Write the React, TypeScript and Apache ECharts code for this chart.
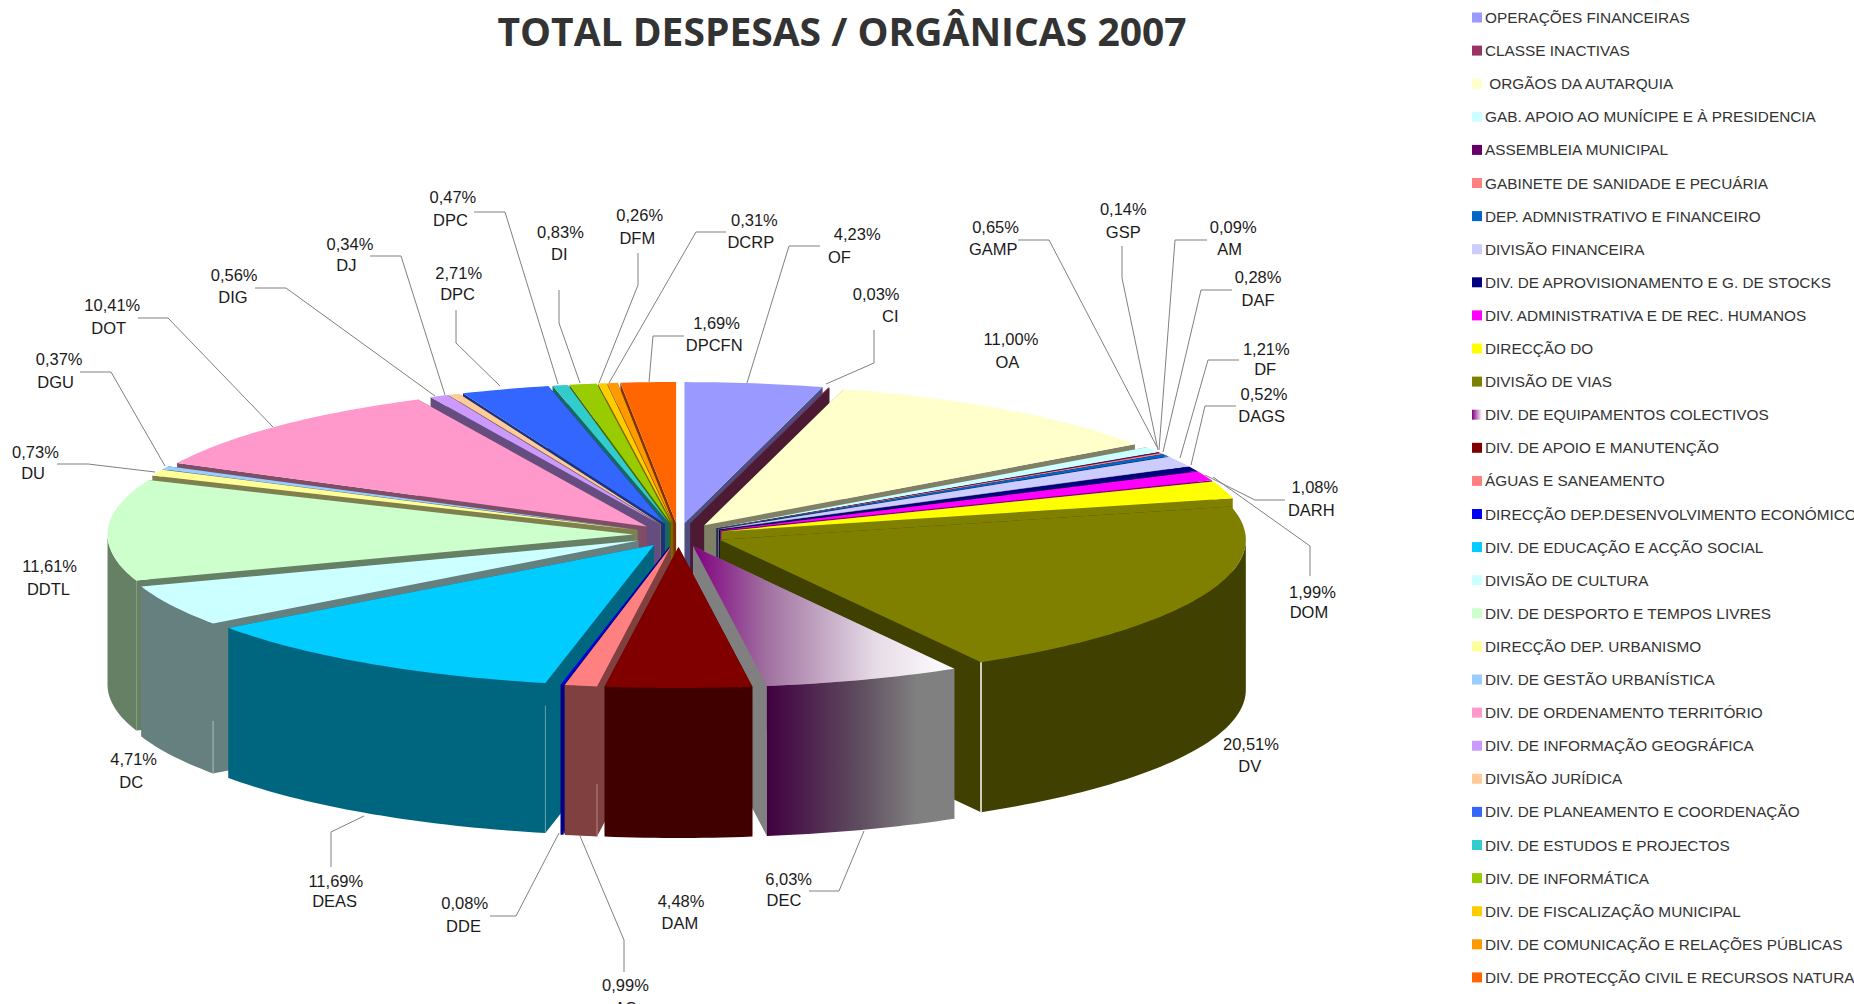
import React, { useEffect, useRef } from "react";
import * as echarts from "echarts";

const legendNames = [
  "OPERAÇÕES FINANCEIRAS", "CLASSE INACTIVAS", " ORGÃOS DA AUTARQUIA", "GAB. APOIO AO MUNÍCIPE E À PRESIDENCIA",
  "ASSEMBLEIA MUNICIPAL", "GABINETE DE SANIDADE E PECUÁRIA", "DEP. ADMNISTRATIVO E FINANCEIRO", "DIVISÃO FINANCEIRA",
  "DIV. DE APROVISIONAMENTO E G. DE STOCKS", "DIV. ADMINISTRATIVA E DE REC. HUMANOS", "DIRECÇÃO DO", "DIVISÃO DE VIAS",
  "DIV. DE EQUIPAMENTOS COLECTIVOS", "DIV. DE APOIO E MANUTENÇÃO", "ÁGUAS E SANEAMENTO", "DIRECÇÃO DEP.DESENVOLVIMENTO ECONÓMICO",
  "DIV. DE EDUCAÇÃO E ACÇÃO SOCIAL", "DIVISÃO DE CULTURA", "DIV. DE DESPORTO E TEMPOS LIVRES", "DIRECÇÃO DEP. URBANISMO",
  "DIV. DE GESTÃO URBANÍSTICA", "DIV. DE ORDENAMENTO TERRITÓRIO", "DIV. DE INFORMAÇÃO GEOGRÁFICA", "DIVISÃO JURÍDICA",
  "DIV. DE PLANEAMENTO E COORDENAÇÃO", "DIV. DE ESTUDOS E PROJECTOS", "DIV. DE INFORMÁTICA", "DIV. DE FISCALIZAÇÃO MUNICIPAL",
  "DIV. DE COMUNICAÇÃO E RELAÇÕES PÚBLICAS", "DIV. DE PROTECÇÃO CIVIL E RECURSOS NATURAIS",
];
const shortNames = [
  "OF", "CI", "OA", "GAMP", "AM", "GSP", "DAF", "DF", "DAGS", "DARH", "DOM", "DV", "DEC", "DAM", "AS",
  "DDE", "DEAS", "DC", "DDTL", "DU", "DGU", "DOT", "DIG", "DJ", "DPC", "DPC", "DI", "DFM", "DCRP", "DPCFN",
];
const values = [
  4.23, 0.03, 11.0, 0.65, 0.09, 0.14, 0.28, 1.21, 0.52, 1.08, 1.99, 20.51, 6.03, 4.48, 0.99,
  0.08, 11.69, 4.71, 11.61, 0.73, 0.37, 10.41, 0.56, 0.34, 2.71, 0.47, 0.83, 0.26, 0.31, 1.69,
];
const colors = [
  "#9999FF", "#993366", "#FFFFCC", "#CCFFFF", "#660066", "#FF8080", "#0066CC", "#CCCCFF", "#000080", "#FF00FF",
  "#FFFF00", "#808000", "#800080", "#800000", "#FF8080", "#0000FF", "#00CCFF", "#CCFFFF", "#CCFFCC", "#FFFF99",
  "#99CCFF", "#FF99CC", "#CC99FF", "#FFCC99", "#3366FF", "#33CCCC", "#99CC00", "#FFCC00", "#FF9900", "#FF6600",
];
const percentLabels = [
  "4,23%", "0,03%", "11,00%", "0,65%", "0,09%", "0,14%", "0,28%", "1,21%", "0,52%", "1,08%", "1,99%", "20,51%", "6,03%", "4,48%", "0,99%",
  "0,08%", "11,69%", "4,71%", "11,61%", "0,73%", "0,37%", "10,41%", "0,56%", "0,34%", "2,71%", "0,47%", "0,83%", "0,26%", "0,31%", "1,69%",
];

// label layout: [percent x, percent y, name x, name y] in the 1568-wide reference
const labelLayout: number[][] = [
  [725, 198, 710, 217], [741, 249, 753, 267], [855, 287, 852, 306], [842, 192, 840, 211], [1043, 192, 1040, 211],
  [950, 177, 950, 196], [1064, 234, 1064, 254], [1071, 295, 1070, 312], [1069, 333, 1067, 352], [1112, 412, 1109, 431],
  [1110, 501, 1107, 518], [1058, 629, 1057, 648], [667, 743, 663, 761], [576, 762, 575, 781], [529, 833, 529, 852.5],
  [393, 764, 392, 783], [284, 745, 283, 762], [113, 642, 111, 661], [42, 479, 41, 498], [30, 382, 28, 400],
  [50, 304, 47, 323], [95, 258, 92, 277], [198, 233, 197, 251], [296, 206, 293, 224], [388, 231, 387, 249],
  [383, 167, 381, 186], [474, 196, 473, 215], [541, 182, 539, 201], [638, 186, 635, 205], [606, 273, 604, 292],
];
// leader lines in page pixels
const leaderLines: number[][][] = [
  [[747, 383], [789, 246], [820, 246]],
  [[826, 384], [874, 363], [874, 330]],
  [],
  [[1157, 447], [1049, 240], [1018, 240]],
  [[1159, 450], [1175, 240], [1207, 240]],
  [[1158, 450], [1122, 278], [1122, 246]],
  [[1163, 452], [1201, 290], [1232, 290]],
  [[1180, 458], [1208, 360], [1239, 360]],
  [[1191, 465], [1205, 406], [1236, 406]],
  [[1205, 475], [1255, 500], [1285, 500]],
  [[1213, 477], [1310, 546], [1310, 576]],
  [],
  [[864, 831], [839, 891], [809, 891]],
  [],
  [[580, 836], [624, 940], [624, 972]],
  [[559, 833], [516, 916], [490, 916]],
  [[364, 816], [331, 832], [331, 867]],
  [],
  [],
  [[57, 464], [88, 464], [155, 472]],
  [[165, 466], [111, 372], [80, 372]],
  [[273, 427], [168, 318], [138, 318]],
  [[435, 396], [286, 288], [255, 288]],
  [[445, 395], [401, 256], [370, 256]],
  [[500, 386], [456, 343], [456, 310]],
  [[558, 384], [505, 212], [474, 212]],
  [[580, 383], [559, 323], [559, 290]],
  [[599, 383], [638, 285], [638, 253]],
  [[609, 383], [696, 232], [726, 232]],
  [[649, 382], [653, 336], [684, 336]],
];
// light edges where a slice's outer wall meets its cut face: [slice index, use end angle, start fraction, colour]
const seams: [number, boolean, number, string][] = [
  [11, true, 0, "#FFFFFF"],
  [14, false, 0.65, "#B08A8A"],
  [16, false, 0.15, "#5F9FB0"],
  [17, false, 0.65, "#A8BDBD"],
];

const GRADIENT_INDEX = 12;
const CX = 678.5;
const CY = 535;
const RX = 526;
const RY = 141;
const EX = 45;
const EY = 12;
const DEPTH = 150;
const LABEL_SCALE = 1854 / 1568;
const total = values.reduce((a, b) => a + b, 0);

function darken(hex: string) {
  const n = parseInt(hex.slice(1), 16);
  const f = (v: number) => Math.round(v / 2).toString(16).padStart(2, "0");
  return "#" + f((n >> 16) & 255) + f((n >> 8) & 255) + f(n & 255);
}
function horizontal(stops: [number, string][]) {
  return new echarts.graphic.LinearGradient(
    0, 0, 1, 0,
    stops.map(([offset, color]) => ({ offset, color })),
  );
}

const starts: number[] = [];
values.reduce((acc, v, i) => {
  starts[i] = acc;
  return acc + v;
}, 0);

function sliceShape(i: number) {
  const a0 = (starts[i] / total) * Math.PI * 2;
  const a1 = ((starts[i] + values[i]) / total) * Math.PI * 2;
  const mid = (a0 + a1) / 2;
  const ax = CX + Math.sin(mid) * EX;
  const ay = CY - Math.cos(mid) * EY;
  const at = (t: number) => [ax + Math.sin(t) * RX, ay - Math.cos(t) * RY];
  const down = (p: number[]) => [p[0], p[1] + DEPTH];
  const arc = (from: number, to: number) => {
    const n = Math.max(2, Math.ceil((to - from) / 0.02));
    const pts: number[][] = [];
    for (let k = 0; k <= n; k++) pts.push(at(from + ((to - from) * k) / n));
    return pts;
  };
  const apex = [ax, ay];
  const top = [apex, ...arc(a0, a1)];
  const face = (t: number) => [apex, at(t), down(at(t)), down(apex)];
  const lo = Math.max(a0, Math.PI / 2);
  const hi = Math.min(a1, (Math.PI * 3) / 2);
  let outer: number[][] | null = null;
  if (hi > lo) {
    const edge = arc(lo, hi);
    outer = [...edge, ...edge.slice().reverse().map(down)];
  }
  return { top, faces: [face(a0), face(a1)], outer, at, a0, a1 };
}

function sliceSeries(i: number) {
  const isGradient = i === GRADIENT_INDEX;
  const legendFill: any = isGradient ? horizontal([[0, "#800080"], [1, "#FFFFFF"]]) : colors[i];
  const topFill: any = isGradient
    ? horizontal([[0, "#800080"], [0.28, "#A070A0"], [0.7, "#E6DCE6"], [1, "#FFFFFF"]])
    : colors[i];
  const wallFill: any = isGradient
    ? horizontal([[0, "#400040"], [0.5, "#5F4E5F"], [0.8, "#808080"], [1, "#808080"]])
    : darken(colors[i]);
  return {
    type: "custom",
    name: legendNames[i],
    coordinateSystem: "none",
    silent: true,
    clip: false,
    itemStyle: { color: legendFill },
    data: [values[i]],
    renderItem: () => {
      const s = sliceShape(i);
      const children: any[] = s.faces.map((points) => ({
        type: "polygon",
        shape: { points },
        style: { fill: isGradient ? "#808080" : wallFill },
      }));
      if (s.outer) children.push({ type: "polygon", shape: { points: s.outer }, style: { fill: wallFill } });
      children.push({ type: "polygon", shape: { points: s.top }, style: { fill: topFill } });
      seams
        .filter((m) => m[0] === i)
        .forEach(([, useEnd, from, color]) => {
          const p = s.at(useEnd ? s.a1 : s.a0);
          children.push({
            type: "line",
            shape: { x1: p[0], y1: p[1] + DEPTH * from, x2: p[0], y2: p[1] + DEPTH },
            style: { stroke: color, lineWidth: useEnd ? 1.5 : 1 },
          });
        });
      return { type: "group", children };
    },
  };
}

// back slices first, so that nearer slices cover them
const paintOrder = values
  .map((_, i) => i)
  .sort((p, q) => {
    const m = (i: number) => Math.cos(((starts[i] + values[i] / 2) / total) * Math.PI * 2);
    return m(q) - m(p);
  });

const LABEL_FONT = "'Liberation Sans', Arial, sans-serif";

const labelSeries = {
  type: "custom",
  name: "rotulos",
  coordinateSystem: "none",
  silent: true,
  clip: false,
  data: shortNames.map((_, i) => [i]),
  renderItem: (_: any, api: any) => {
    const i = api.value(0);
    const [px, py, nx, ny] = labelLayout[i].map((v) => v * LABEL_SCALE);
    const text = (t: string, x: number, y: number) => ({
      type: "text",
      style: { text: t, x, y, align: "center", verticalAlign: "middle", fill: "#1a1a1a", font: `16.5px ${LABEL_FONT}` },
    });
    const children: any[] = [text(percentLabels[i], px, py), text(shortNames[i], nx, ny)];
    if (leaderLines[i].length) {
      children.unshift({
        type: "polyline",
        shape: { points: leaderLines[i] },
        style: { fill: "none", stroke: "#808080", lineWidth: 1 },
      });
    }
    return { type: "group", children };
  },
};

export default function App() {
  const ref = useRef<HTMLDivElement>(null);
  useEffect(() => {
    document.body.style.margin = "0";
    document.body.style.overflow = "hidden";
    const chart = echarts.init(ref.current!, undefined, { renderer: "svg" });
    chart.setOption({
      animation: false,
      backgroundColor: "#FFFFFF",
      title: {
        text: "TOTAL DESPESAS / ORGÂNICAS 2007",
        left: 837,
        top: 6,
        textAlign: "center",
        textStyle: { fontFamily: "'Open Sans', sans-serif", fontWeight: "bold", fontSize: 39, color: "#333333" },
      },
      legend: {
        orient: "vertical",
        left: 1472,
        top: 10,
        height: 1000,
        padding: 0,
        itemWidth: 10,
        itemHeight: 10,
        itemGap: 18.1,
        icon: "rect",
        selectedMode: false,
        data: legendNames,
        textStyle: { fontFamily: LABEL_FONT, fontSize: 15.35, color: "#333333", padding: [0, 0, 5, -2] },
      },
      series: [...paintOrder.map(sliceSeries), labelSeries],
    });
    return () => chart.dispose();
  }, []);
  return <div ref={ref} style={{ width: 1854, height: 1004 }} />;
}
